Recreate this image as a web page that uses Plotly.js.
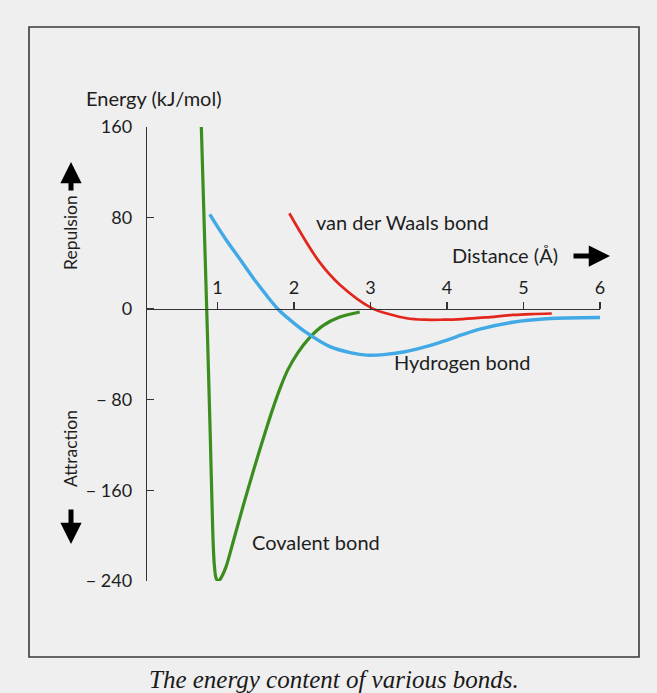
<!DOCTYPE html>
<html>
<head>
<meta charset="utf-8">
<script src="https://cdn.plot.ly/plotly-3.0.1.min.js"></script>
<style>
html,body{margin:0;padding:0;background:#efefef;}
#chart{width:657px;height:693px;}
</style>
</head>
<body>
<div id="chart"></div>
<script>
// ---- data (distance in Å, energy in kJ/mol) ----
const covalentDist   = [0.79, 0.86, 0.906, 0.94, 0.96, 0.985, 1.015, 1.05, 1.11, 1.20, 1.29, 1.40, 1.51, 1.62, 1.72, 1.82, 1.92, 2.05, 2.20, 2.38, 2.60, 2.86];
const covalentEnergy = [160,  0,    -110,  -198, -226, -238,  -240,  -237, -228, -207, -185, -159, -134, -110, -89,  -70,  -54,  -39,  -26,  -15,  -7.5, -3];

const hydrogenDist   = [0.90, 1.10, 1.30, 1.50, 1.65, 1.80, 1.95, 2.16, 2.47, 2.75, 2.95, 3.20, 3.45, 3.70, 3.99, 4.20, 4.43, 4.86, 5.30, 6.00];
const hydrogenEnergy = [83,   62,   43,   24,   11,   -1,   -10,  -21,  -33.5, -39, -41,  -40.3, -38, -34,  -28,  -23,  -18,  -12,  -9,   -7.9];

const vdwDist   = [1.94, 2.33, 2.60, 3.03, 3.25, 3.47, 3.70, 3.95, 4.20, 4.50, 4.86, 5.10, 5.37];
const vdwEnergy = [84,   41.4, 21.1, 0,    -5,   -8.5, -9.8, -9.8, -9.2, -7.8, -5.6, -4.8, -4.3];

const yTickVals = [160, 80, 0, -80, -160, -240];
const yTickText = ["160", "80", "0", "\u2212 80", "\u2212 160", "\u2212 240"];
const xTickVals = [1, 2, 3, 4, 5, 6];
const xTickText = ["1", "2", "3", "4", "5", "6"];

// ---- layout geometry ----
const W = 657, H = 693;
const M = {l: 147, r: 57, t: 127, b: 112};
const PW = W - M.l - M.r, PH = H - M.t - M.b;
const px = x => (x - M.l) / PW;
const py = y => 1 - (y - M.t) / PH;

const FONT = "Lato, 'Noto Sans', sans-serif";
const TXT = '#1e1e1e';

const traces = [
  {x: covalentDist, y: covalentEnergy, mode: 'lines', name: 'Covalent bond',
   line: {color: '#3b8e1e', width: 3.2, shape: 'spline', smoothing: 0.9}},
  {x: hydrogenDist, y: hydrogenEnergy, mode: 'lines', name: 'Hydrogen bond',
   line: {color: '#41a9e6', width: 3.4, shape: 'spline', smoothing: 1}},
  {x: vdwDist, y: vdwEnergy, mode: 'lines', name: 'van der Waals bond',
   line: {color: '#e3261b', width: 2.7, shape: 'spline', smoothing: 1}}
];

function label(text, x, y, opts, size) {
  return Object.assign({text: text, xref: 'paper', yref: 'paper', x: px(x), y: py(y),
    xanchor: 'left', yanchor: 'middle', showarrow: false,
    font: {family: FONT, size: size || 20, color: TXT}}, opts || {});
}
function arrow(tipX, tipY, ax, ay) {
  return {text: '', xref: 'paper', yref: 'paper', x: px(tipX), y: py(tipY),
    ax: ax, ay: ay, showarrow: true, arrowhead: 2, arrowsize: 0.85, arrowwidth: 5,
    arrowcolor: '#000'};
}

const layout = {
  width: W, height: H,
  margin: M,
  paper_bgcolor: '#efefef', plot_bgcolor: '#efefef',
  showlegend: false,
  xaxis: {
    range: [0.08, 6], side: 'top', anchor: 'free', position: 0.6,
    showgrid: false, zeroline: false, showline: true, linecolor: '#333', linewidth: 1.2,
    ticks: 'outside', ticklen: 7, tickwidth: 1.2, tickcolor: '#333',
    tickvals: xTickVals, ticktext: xTickText,
    tickfont: {family: FONT, size: 18, color: TXT}
  },
  yaxis: {
    range: [-240, 160],
    showgrid: false, zeroline: false, showline: true, linecolor: '#333', linewidth: 1.2,
    ticks: 'inside', ticklen: 7, tickwidth: 1.2, tickcolor: '#333',
    tickvals: yTickVals, ticktext: yTickText, ticklabelstandoff: 10,
    tickfont: {family: FONT, size: 18, color: TXT}
  },
  shapes: [
    {type: 'rect', xref: 'paper', yref: 'paper', x0: px(29), x1: px(639), y0: py(657), y1: py(27),
     line: {color: '#3a3a3a', width: 1.6}, fillcolor: 'rgba(0,0,0,0)', layer: 'below'}
  ],
  annotations: [
    label('Energy (kJ/mol)', 84, 98),
    label('Repulsion', 70, 233, {xanchor: 'center', textangle: -90}, 17.5),
    label('Attraction', 70, 449, {xanchor: 'center', textangle: -90}, 17.5),
    label('van der Waals bond', 314, 222),
    label('Distance (Å)', 450, 255),
    label('Hydrogen bond', 392, 362),
    label('Covalent bond', 250, 542),
    arrow(71, 162, 0, 30),
    arrow(71, 544, 0, -36),
    arrow(610, 256, -38, 0),
    {text: '<i>The energy content of various bonds.</i>', xref: 'paper', yref: 'paper',
     x: px(334), y: py(679), xanchor: 'center', yanchor: 'middle', showarrow: false,
     font: {family: "'Liberation Serif', 'DejaVu Serif', serif", size: 25, color: '#1a1a1a'}}
  ]
};

Plotly.newPlot('chart', traces, layout, {displayModeBar: false, staticPlot: true});
</script>
</body>
</html>
